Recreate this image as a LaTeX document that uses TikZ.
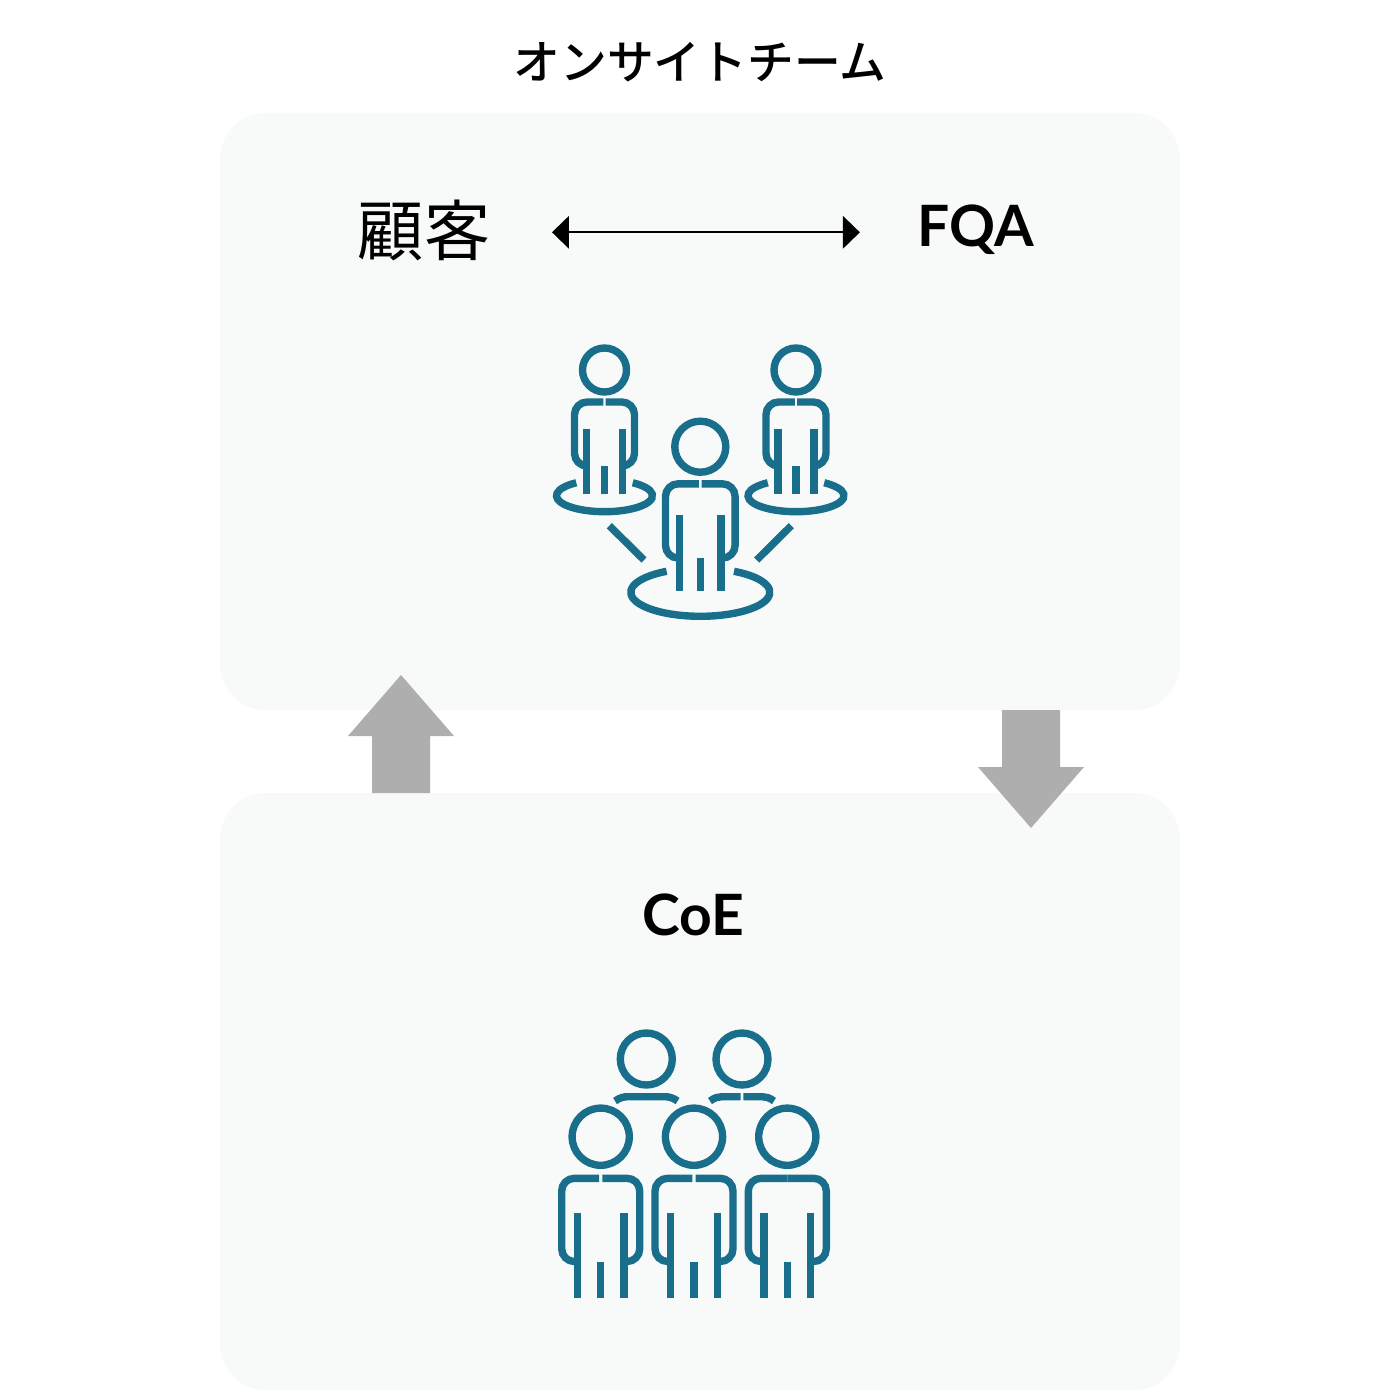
\documentclass[tikz,border=0pt]{standalone}
\usepackage{fontspec}
\setmainfont{Lato}
\newfontfamily\cjkfont{Noto Sans CJK JP}
\newfontfamily\cjkmedium{Noto Sans CJK JP Medium}
\usepackage{tikz}
\usetikzlibrary{arrows.meta}

\definecolor{panelgray}{HTML}{F8FAFA}
\definecolor{arrowgray}{HTML}{AEAEAE}
\definecolor{iconteal}{HTML}{186E8B}

\tikzset{
  panel/.style={fill=panelgray, rounded corners=13pt},
  bigarrow/.style={fill=arrowgray},
  iconline/.style={draw=iconteal, line width=2.1pt},
  latinlabel/.style={font=\fontsize{16.2}{20}\selectfont\bfseries, color=black, anchor=base},
  neck gap/.store in=\neckgap,
  neck gap=1.2,
  pics/person/.style={code={
    \draw[iconline] (0,0) circle[radius=22];
    \draw[iconline, rounded corners=3.6pt] (-\neckgap,32) -- (-30,32) -- (-30,96) -- (-18,96);
    \draw[iconline, rounded corners=3.6pt] (\neckgap,32) -- (30,32) -- (30,96) -- (18,96);
    \draw[iconline] (-18,59) -- (-18,124);
    \draw[iconline] (0,96) -- (0,124);
    \draw[iconline] (18,59) -- (18,124);
  }},
}

\begin{document}
\begin{tikzpicture}[x=0.01cm, y=-0.01cm]
\useasboundingbox (0,0) rectangle (1400,1400);

\fill[panel] (220,113) rectangle (1180,710);
\fill[panel] (220,793) rectangle (1180,1390);

\fill[bigarrow] (401,675) -- (454,736) -- (430,736) -- (430,793) -- (372,793) -- (372,736) -- (348,736) -- cycle;
\fill[bigarrow] (1031,828) -- (1084,767) -- (1060,767) -- (1060,710) -- (1002,710) -- (1002,767) -- (978,767) -- cycle;

\node[font=\cjkmedium\fontsize{13.3}{16}\selectfont, inner sep=0pt] (title) at (700,62) {オンサイトチーム};

\node[font=\cjkfont\fontsize{18.8}{22}\selectfont, inner ysep=0pt, inner xsep=17.4pt] (customer) at (424,230) {顧客};
\node[latinlabel, inner xsep=16.3pt] (fqa) at (976,247) {FQA};
\node[latinlabel, inner xsep=0pt] (coe) at (693.5,935) {CoE};

\coordinate (tipline) at (700,232.3);
\draw[{Triangle[length=4.8pt, width=9.2pt]}-{Triangle[length=4.8pt, width=9.2pt]}, line width=0.55pt, color=black] (customer.east |- tipline) -- (fqa.west |- tipline);

\pic (leftmember) at (604.5,370) {person};
\pic (rightmember) at (796,370) {person};
\pic[scale=1.16] (centermember) at (700.3,446.7) {person};

\draw[iconline] (604.5,495.7) ++(234:48 and 16) arc[start angle=234, end angle=-54, x radius=48, y radius=16];
\draw[iconline] (796,495.7) ++(234:48 and 16) arc[start angle=234, end angle=-54, x radius=48, y radius=16];
\draw[iconline] (700.3,592.3) ++(241:69.5 and 24) arc[start angle=241, end angle=-61, x radius=69.5, y radius=24];

\draw[iconline] (609.3,525.7) -- (644,560);
\draw[iconline] (791.3,525.7) -- (756.7,560);

\draw[iconline] (646.3,1059) circle[radius=26];
\draw[iconline] (742,1059) circle[radius=26];
\draw[iconline] (615,1101) .. controls (620,1097.5) and (624,1096.7) .. (628,1096.7) -- (664.6,1096.7) .. controls (668.6,1096.7) and (672.6,1097.5) .. (677.6,1101);
\draw[iconline] (740.6,1096.7) -- (722,1096.7) .. controls (718,1096.7) and (715,1097.5) .. (710,1101);
\draw[iconline] (743.4,1096.7) -- (762,1096.7) .. controls (766,1096.7) and (769,1097.5) .. (774,1101);

\pic[scale=1.3] (frontleft) at (600.7,1136.7) {person};
\pic[scale=1.3] (frontmiddle) at (694,1136.7) {person};
\pic[scale=1.3, neck gap=0] (frontright) at (787.3,1136.7) {person};
\end{tikzpicture}
\end{document}
